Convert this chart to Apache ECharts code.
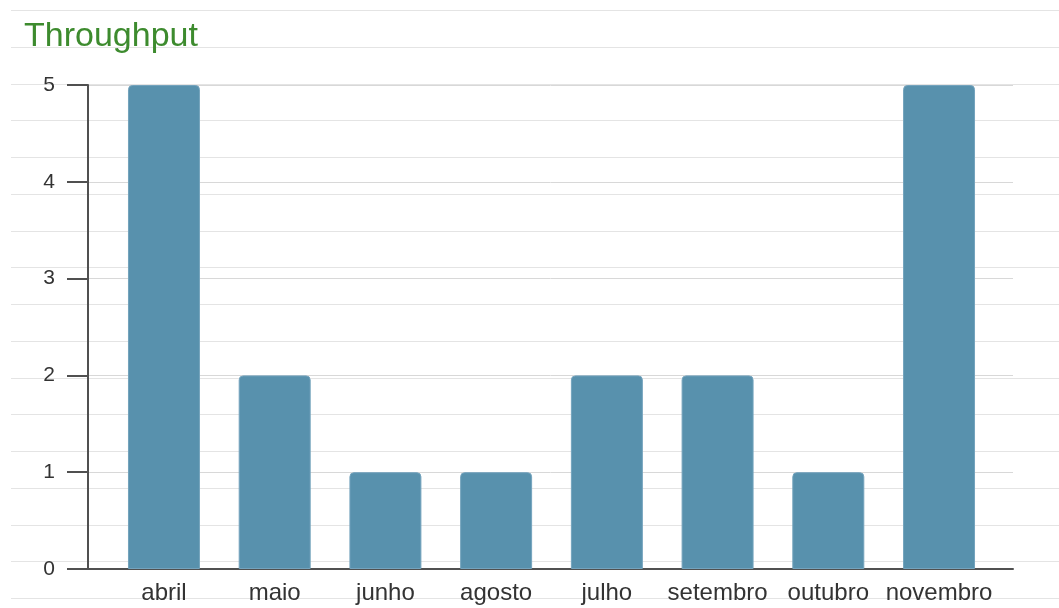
<!DOCTYPE html>
<html>
<head>
<meta charset="utf-8">
<script src="https://cdn.jsdelivr.net/npm/echarts@6/dist/echarts.min.js"></script>
<style>
  html, body { margin: 0; padding: 0; background: #fff; }
  #wrap { position: relative; width: 1059px; height: 608px; overflow: hidden; }
  .bgline { position: absolute; left: 11px; right: 0; height: 1px; background: #e4e4e4; }
  #chart { position: absolute; left: 0; top: 0; width: 1059px; height: 608px; }
</style>
</head>
<body>
<div id="wrap">
  <div id="chart"></div>
</div>
<script>
const titleText = 'Throughput';
const categories = ['abril', 'maio', 'junho', 'agosto', 'julho', 'setembro', 'outubro', 'novembro'];
const values = [5, 2, 1, 1, 2, 2, 1, 5];
const yMin = 0, yMax = 5, yStep = 1;

// lined page background (decoration, not data)
const wrap = document.getElementById('wrap');
for (let k = 0; k < 17; k++) {
  const d = document.createElement('div');
  d.className = 'bgline';
  d.style.top = Math.round(10 + 36.75 * k) + 'px';
  wrap.insertBefore(d, wrap.firstChild);
}

const FONT = "'Liberation Sans', Arial, sans-serif";
const AXIS = '#505050';
const chart = echarts.init(document.getElementById('chart'), null, { renderer: 'canvas' });
chart.setOption({
  backgroundColor: 'transparent',
  animation: false,
  title: {
    text: titleText,
    left: 19, top: 15,
    textStyle: { color: '#3d8b2e', fontSize: 34, fontWeight: 'normal', fontFamily: FONT }
  },
  grid: [
    { left: 88, right: 46, top: 85, bottom: 39 },
    { left: 108.6, right: 64.6, top: 85, bottom: 39 }
  ],
  xAxis: [
    {
      gridIndex: 0, type: 'value', min: 0, max: 1,
      axisLine: { show: true, lineStyle: { color: AXIS, width: 2 } },
      axisTick: { show: false }, axisLabel: { show: false }, splitLine: { show: false }
    },
    {
      gridIndex: 1, type: 'category', data: categories,
      axisLine: { show: false }, axisTick: { show: false },
      axisLabel: { color: '#333', fontSize: 24, fontFamily: FONT, margin: 12, interval: 0 }
    }
  ],
  yAxis: [
    {
      gridIndex: 0, type: 'value', min: yMin, max: yMax, interval: yStep,
      axisLine: { show: true, lineStyle: { color: AXIS, width: 2 } },
      axisTick: { show: true, length: 21, lineStyle: { color: AXIS, width: 2 } },
      axisLabel: { color: '#333', fontSize: 21, fontFamily: FONT, margin: 33 },
      splitLine: { show: true, lineStyle: { color: '#d8d8d8', width: 1 } }
    },
    {
      gridIndex: 1, type: 'value', min: yMin, max: yMax, interval: yStep,
      show: false
    }
  ],
  series: [{
    type: 'bar',
    xAxisIndex: 1, yAxisIndex: 1,
    data: values,
    barCategoryGap: '35%',
    itemStyle: { color: '#5891ad', borderRadius: [4, 4, 0, 0], borderColor: '#74a3bd', borderWidth: 1 }
  }]
});
</script>
</body>
</html>
